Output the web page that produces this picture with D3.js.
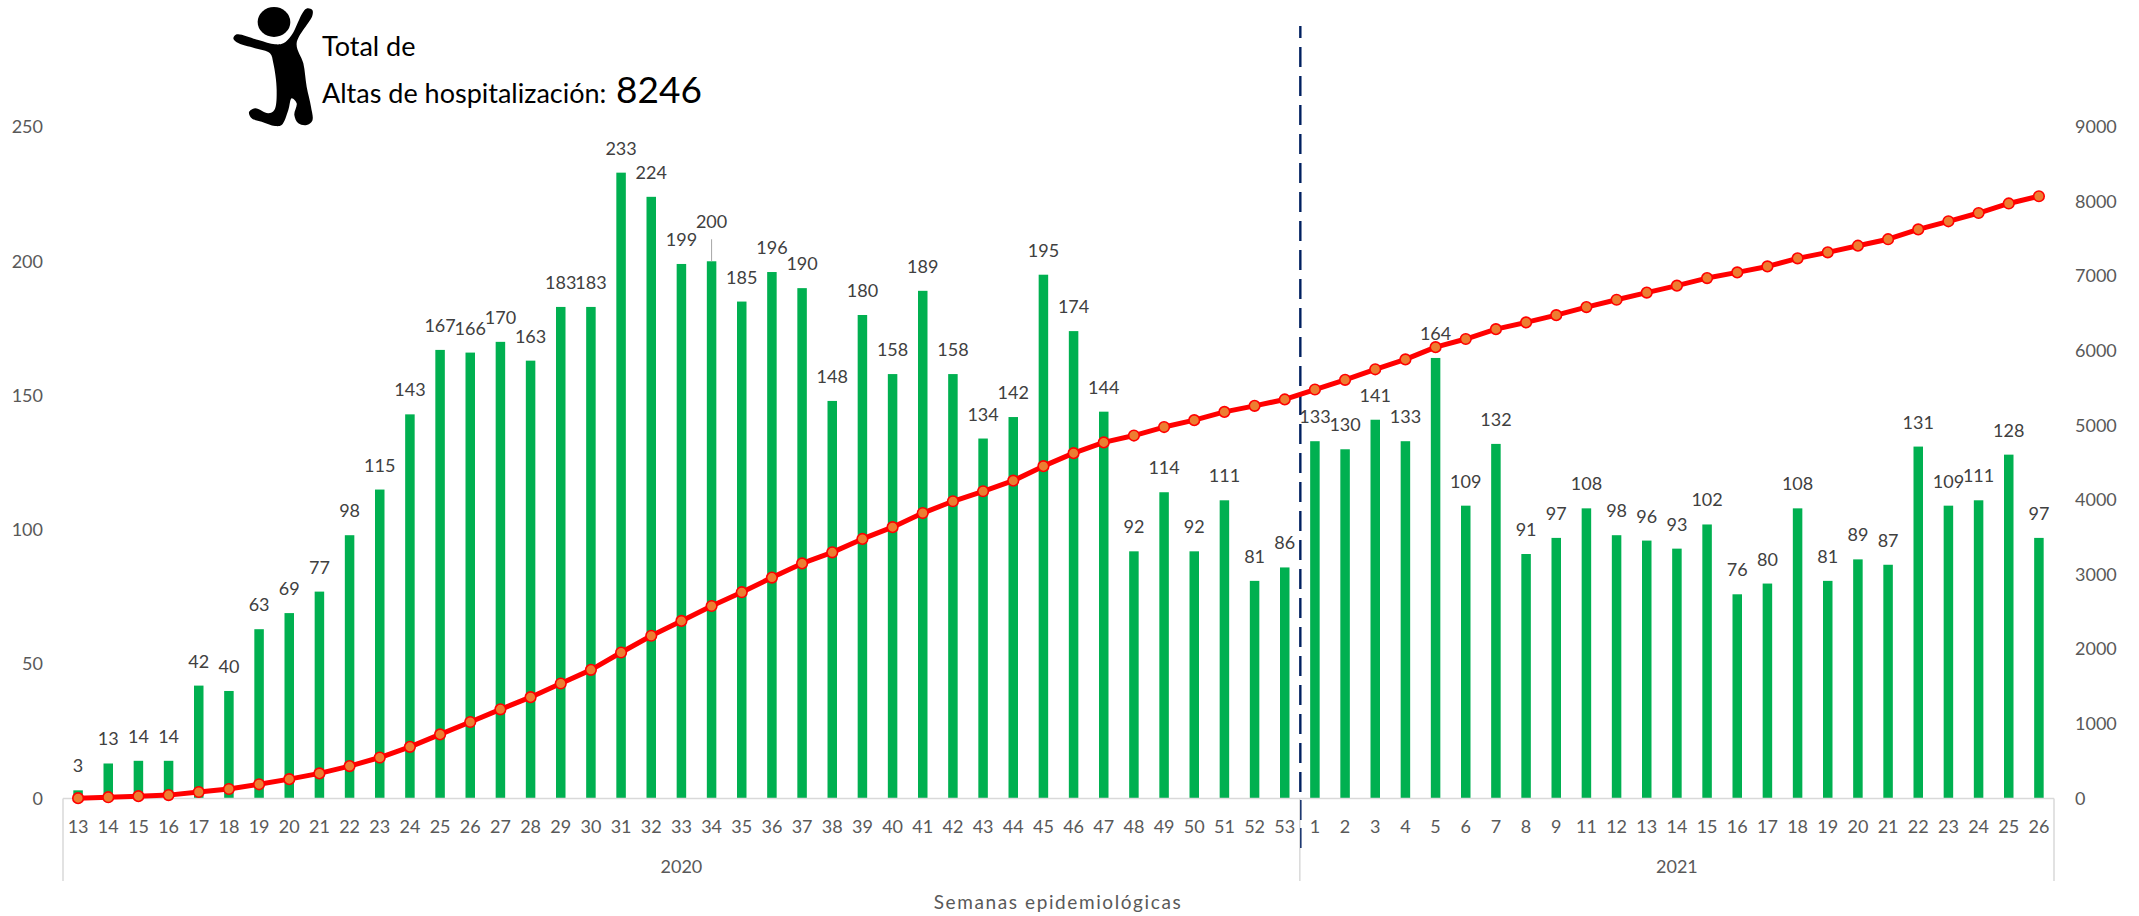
<!DOCTYPE html>
<html>
<head>
<meta charset="utf-8">
<title>Altas de hospitalización</title>
<script src="https://cdn.jsdelivr.net/npm/d3@7"></script>
<style>
  html, body { margin: 0; padding: 0; background: #fff; overflow: hidden; }
  text { font-family: Lato, "Open Sans", sans-serif; }
</style>
</head>
<body>
<div id="chart"></div>
<script>
let w=2139;
let h=916;

// semanas epidemiologicas (2021 no trae la semana 10)
let weeks2020=[13,14,15,16,17,18,19,20,21,22,23,24,25,26,27,28,29,30,31,32,33,34,35,36,37,38,39,40,41,42,43,44,45,46,47,48,49,50,51,52,53];
let weeks2021=[1,2,3,4,5,6,7,8,9,11,12,13,14,15,16,17,18,19,20,21,22,23,24,25,26];

// altas por semana
let altas2020=[3,13,14,14,42,40,63,69,77,98,115,143,167,166,170,163,183,183,233,224,199,200,185,196,190,148,180,158,189,158,134,142,195,174,144,92,114,92,111,81,86];
let altas2021=[133,130,141,133,164,109,132,91,97,108,98,96,93,102,76,80,108,81,89,87,131,109,111,128,97];

// acumulado, linea roja
let acumulado=[3,16,30,44,86,126,189,258,335,433,548,691,858,1024,1194,1357,1540,1723,1956,2180,2379,2579,2764,2960,3150,3298,3478,3636,3825,3983,4117,4259,4454,4628,4772,4864,4978,5070,5181,5262,5348,
  5481,5611,5752,5885,6049,6158,6290,6381,6478,6586,6684,6780,6873,6975,7051,7131,7239,7320,7409,7496,7627,7736,7847,7975,8072];

let leftTicks=[0,50,100,150,200,250];
let rightTicks=[0,1000,2000,3000,4000,5000,6000,7000,8000,9000];
let years=["2020","2021"];
let totalAltas="8246";

let weeks=weeks2020.concat(weeks2021);
let altas=altas2020.concat(altas2021);

let viz=d3.select("#chart").append("svg")
  .attr("width",w)
  .attr("height",h)
  .style("display","block")
  ;

let axisLeftX=63;
let axisRightX=2054;
let axisY=798.4;
let topY=127;
let bracketBottom=881;

let xScale=d3.scaleBand()
  .domain(d3.range(weeks.length))
  .range([axisLeftX,axisRightX])
  .paddingInner(0.685)
  .paddingOuter(0.3425)
  ;
let yLeft=d3.scaleLinear().domain([0,250]).range([axisY,topY]);
let yRight=d3.scaleLinear().domain([0,9000]).range([axisY,topY]);

function xCenter(i){
  return xScale(i)+xScale.bandwidth()/2;
}
let separatorX=xScale.step()*weeks2020.length+axisLeftX;

// bars
viz.selectAll(".bar").data(altas).enter()
  .append("rect")
  .attr("class","bar")
  .attr("x",function(d,i){ return xScale(i); })
  .attr("y",function(d){ return yLeft(d); })
  .attr("width",xScale.bandwidth())
  .attr("height",function(d){ return axisY-yLeft(d); })
  .attr("fill","#00B050")
  ;

// bar labels
viz.selectAll(".barLabel").data(altas).enter()
  .append("text")
  .attr("class","barLabel")
  .text(function(d){ return d; })
  .attr("x",function(d,i){ return xCenter(i); })
  .attr("y",function(d,i){
    // la etiqueta de 200 esta desplazada, con linea guia
    let nudge=(i==21)?15:0;
    return yLeft(d)-18-nudge;
  })
  .attr("text-anchor","middle")
  .attr("fill","#404040")
  .style("font-size","18px")
  ;

// leader line for the 200 label
viz.append("line")
  .attr("x1",xCenter(21))
  .attr("x2",xCenter(21))
  .attr("y1",yLeft(altas[21])-22)
  .attr("y2",yLeft(altas[21]))
  .attr("stroke","#A6A6A6")
  .attr("stroke-width",1)
  ;

// x axis
let xAxisGroup=viz.append("g")
  .attr("class","xAxisGroup")
  .attr("transform","translate(0,"+axisY+")")
  .call(d3.axisBottom(xScale).tickSize(0).tickPadding(22).tickFormat(function(i){ return weeks[i]; }))
  ;
xAxisGroup.select("path").remove();
xAxisGroup.selectAll("text").attr("fill","#595959").style("font-size","18px");

viz.append("line")
  .attr("x1",axisLeftX).attr("x2",axisRightX)
  .attr("y1",axisY).attr("y2",axisY)
  .attr("stroke","#D9D9D9").attr("stroke-width",1.5)
  ;
[axisLeftX,separatorX,axisRightX].forEach(function(x){
  viz.append("line")
    .attr("x1",x).attr("x2",x)
    .attr("y1",axisY).attr("y2",bracketBottom)
    .attr("stroke","#D9D9D9").attr("stroke-width",1.5)
    ;
});

// year labels
viz.selectAll(".yearLabel").data(years).enter()
  .append("text")
  .attr("class","yearLabel")
  .text(function(d){ return d; })
  .attr("x",function(d,i){ return i==0?(axisLeftX+separatorX)/2:(separatorX+axisRightX)/2; })
  .attr("y",873)
  .attr("text-anchor","middle")
  .attr("fill","#595959")
  .style("font-size","18px")
  ;

// y axes
let leftGroup=viz.append("g")
  .attr("transform","translate("+axisLeftX+",0)")
  .call(d3.axisLeft(yLeft).tickValues(leftTicks).tickSize(0).tickPadding(20))
  ;
let rightGroup=viz.append("g")
  .attr("transform","translate("+axisRightX+",0)")
  .call(d3.axisRight(yRight).tickValues(rightTicks).tickSize(0).tickPadding(21).tickFormat(d3.format("d")))
  ;
[leftGroup,rightGroup].forEach(function(g){
  g.select("path").remove();
  g.selectAll("text").attr("fill","#595959").style("font-size","18px");
});

// axis title
viz.append("text")
  .text("Semanas epidemiológicas")
  .attr("x",1058)
  .attr("y",909)
  .attr("text-anchor","middle")
  .attr("fill","#595959")
  .style("font-size","19px")
  .style("letter-spacing","1.6px")
  ;

// dashed line between years
viz.append("line")
  .attr("x1",separatorX+0.5).attr("x2",separatorX+0.5)
  .attr("y1",792).attr("y2",26)
  .attr("stroke","#002060").attr("stroke-width",2.4)
  .attr("stroke-dasharray","20,9")
  ;
viz.append("line")
  .attr("x1",separatorX+1).attr("x2",separatorX+1)
  .attr("y1",848).attr("y2",800)
  .attr("stroke","#002060").attr("stroke-width",1.4)
  .attr("stroke-dasharray","20,8")
  ;

// cumulative line
let lineMaker=d3.line()
  .x(function(d,i){ return xCenter(i); })
  .y(function(d){ return yRight(d); })
  ;
viz.append("path")
  .attr("d",lineMaker(acumulado))
  .attr("fill","none")
  .attr("stroke","#FF0000")
  .attr("stroke-width",5)
  .attr("stroke-linejoin","round")
  ;
viz.selectAll(".dot").data(acumulado).enter()
  .append("circle")
  .attr("class","dot")
  .attr("cx",function(d,i){ return xCenter(i); })
  .attr("cy",function(d){ return yRight(d); })
  .attr("r",5.3)
  .attr("fill","#ED7D31")
  .attr("stroke","#FF0000")
  .attr("stroke-width",1.6)
  ;

// jumping person icon
let personOutline=[[35,103],[100,120],[150,133],[175,130],[200,105],[235,35],[247,25],[262,30],[262,47],[215,130],[235,190],[245,260],[258,320],[262,362],[245,375],[220,370],[208,345],[215,310],[200,295],[190,330],[170,375],[150,378],[110,365],[80,355],[72,337],[90,325],[130,340],[148,330],[155,270],[145,190],[135,160],[90,145],[35,127],[25,115]];
let person=viz.append("g").attr("transform","translate(225,0) scale(0.3333)");
person.append("path")
  .attr("d",d3.line().curve(d3.curveCatmullRomClosed)(personOutline))
  .attr("fill","#000")
  ;
person.append("ellipse")
  .attr("cx",147).attr("cy",66)
  .attr("rx",49).attr("ry",45)
  .attr("fill","#000")
  ;

// header
viz.append("text")
  .text("Total de")
  .attr("x",322).attr("y",56)
  .attr("fill","#000")
  .style("font-size","27px")
  ;
viz.append("text")
  .text("Altas de hospitalización:")
  .attr("x",322).attr("y",103)
  .attr("fill","#000")
  .style("font-size","27px")
  ;
viz.append("text")
  .text(totalAltas)
  .attr("x",616).attr("y",103)
  .attr("fill","#000")
  .style("font-size","37px")
  ;
</script>
</body>
</html>
